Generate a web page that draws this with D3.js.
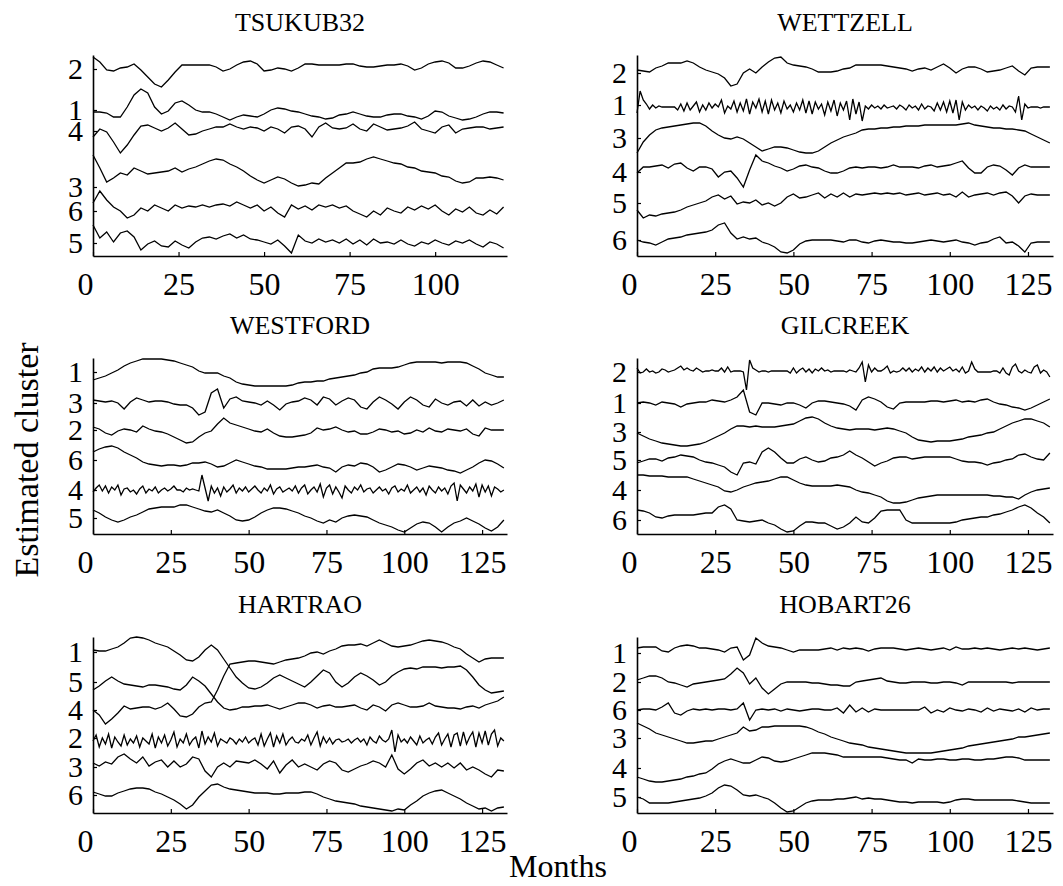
<!DOCTYPE html>
<html>
<head>
<meta charset="utf-8">
<script src="https://cdn.jsdelivr.net/npm/d3@7"></script>
<style>
  body { margin: 0; background: #fff; }
  svg text { font-family: "Liberation Serif", "Times New Roman", serif; fill: #000; }
</style>
</head>
<body>
<svg id="chart" width="1063" height="886"></svg>
<script>
// ---- Estimated cluster traces, one array per station and cluster ----
// Values are sampled every 2 months unless the series is marked with step 1.

// TSUKUB32 (months 0-120)
const tsukub32_2 = [19.9,19.4,18.6,18.5,18.8,18.9,19.2,18.6,17.9,17.2, 16.9,17.6,18.4,19.1,19.1,19.1,19.1,19.1,18.9,18.5, 18.7,19.1,19.4,19.5,19.2,18.5,18.6,18.8,18.7,18.5, 18.8,19.2,19.2,19.1,19.1,19.1,19.1,19.2,19.2,19.0, 18.9,18.9,19.0,19.1,19.1,19.2,19.0,18.6,18.8,19.2, 19.4,19.5,19.3,18.8,18.8,19.0,19.3,19.5,19.4,19.1, 18.8];
const tsukub32_1 = [14.4,14.4,14.3,13.9,13.9,14.9,16.1,16.7,16.3,14.9, 14.2,14.5,15.3,15.5,15.1,14.6,14.4,14.4,14.2,13.9, 13.6,13.9,14.1,14.0,13.9,14.2,14.6,14.8,14.7,14.5, 14.4,14.2,14.0,13.9,13.7,13.8,14.1,14.2,14.4,14.2, 14.0,13.9,13.9,14.1,14.2,14.2,14.0,13.9,13.7,14.0, 14.5,14.4,14.0,13.8,13.6,13.7,13.9,14.2,14.4,14.4, 14.3];
const tsukub32_4 = [11.9,12.7,12.4,11.4,10.3,11.1,12.1,13.0,13.1,12.8, 12.5,12.8,13.3,12.7,12.1,12.2,12.5,12.7,12.9,12.9, 13.2,12.9,12.7,12.9,12.8,12.5,12.9,12.7,12.3,12.9, 13.0,12.7,11.9,12.9,13.3,12.8,12.7,12.8,13.2,12.7, 12.5,13.2,12.9,12.6,12.7,12.8,13.0,13.4,12.7,12.5, 12.3,12.9,13.1,12.3,12.7,12.8,12.9,12.9,12.7,12.8, 12.9];
const tsukub32_3 = [10.1,8.8,7.4,7.8,8.3,8.1,8.8,8.5,8.2,8.3, 8.4,8.5,8.8,8.4,8.7,8.9,9.2,9.5,9.7,9.6, 9.2,8.9,8.5,8.0,7.6,7.3,7.6,7.9,7.7,7.3, 7.0,7.1,7.3,7.2,7.8,8.3,8.8,9.3,9.3,9.4, 9.7,9.9,9.7,9.5,9.3,9.2,8.9,8.8,8.5,8.4, 8.3,8.0,7.9,7.5,7.3,7.4,7.8,7.8,7.9,7.8, 7.6];
const tsukub32_6 = [5.3,6.5,5.6,4.9,4.5,3.8,4.1,4.8,4.5,5.1, 4.8,4.5,5.1,4.8,5.0,4.9,5.1,4.9,5.1,5.2, 5.0,5.4,5.1,4.8,5.1,4.5,4.9,4.3,3.9,5.1, 4.7,5.0,4.6,5.1,4.9,5.1,4.8,5.0,4.5,4.2, 3.9,4.5,4.1,4.8,4.5,4.3,4.9,4.6,5.0,4.7, 5.1,4.5,4.1,4.7,4.4,4.9,4.3,4.1,4.6,4.2, 4.9];
const tsukub32_5 = [3.1,1.8,2.4,1.4,2.3,2.5,1.9,0.6,1.2,1.5, 1.0,0.9,1.5,1.1,0.8,1.4,1.8,1.9,1.7,2.0, 2.2,1.8,2.1,1.7,1.6,1.4,1.2,1.6,1.0,0.3, 2.1,1.5,1.3,1.7,1.4,1.6,1.3,1.7,1.2,1.6, 1.1,1.7,1.3,1.4,1.2,1.6,1.2,1.0,1.4,1.2, 1.6,1.3,1.1,1.5,1.3,1.6,1.2,0.9,1.4,1.2, 0.8];

// WETTZELL (months 0-132)
const wettzell_2 = [18.6,18.5,18.4,18.8,19.0,19.3,19.3,19.3,19.5,19.3, 18.9,18.6,18.4,18.2,17.8,17.0,17.2,18.3,18.7,18.3, 18.9,19.4,19.8,19.9,19.3,19.1,19.0,18.9,18.7,18.4, 18.4,18.4,18.5,18.7,18.8,19.1,19.1,19.1,19.1,19.1, 19.0,18.9,18.8,18.7,18.5,18.7,18.8,18.6,18.9,19.2, 18.8,18.3,18.7,18.9,18.9,18.7,18.4,18.5,18.6,18.8, 19.0,18.5,18.1,18.8,18.9,18.9,18.9];
const wettzell_1 = [14.3,16.5,15.6,15.2,14.7,15.1,14.8,15.0,14.9,14.9, 14.9,14.9,14.9,14.6,15.2,14.5,15.3,14.6,15.0,15.4, 14.4,15.1,14.6,15.3,14.8,15.2,14.9,15.6,14.3,15.0, 14.7,15.5,14.4,15.3,14.5,15.7,14.2,15.4,14.8,15.7, 14.4,15.5,14.2,15.6,14.6,15.3,14.3,15.5,14.7,15.1, 14.4,15.3,14.6,15.6,14.3,15.5,14.2,15.4,14.7,15.2, 14.1,15.4,14.5,15.6,14.0,15.3,14.6,15.5,13.6,15.7, 14.2,15.4,13.5,15.0,14.7,15.1,14.8,15.0,14.7,15.1, 14.8,14.9,15.0,14.7,15.1,14.9,14.6,15.1,14.8,15.0, 14.6,15.2,14.7,15.0,14.9,14.5,15.3,14.6,15.4,14.4, 15.5,14.3,15.6,13.6,15.4,14.6,15.1,14.8,15.0,14.6, 15.0,14.8,14.5,15.0,14.7,14.9,14.6,15.1,14.7,15.0, 14.9,14.4,16.0,13.6,15.2,14.8,14.9,14.9,14.9,14.8, 14.9,14.9,14.9];
const wettzell_3 = [10.3,11.4,12.1,12.6,12.8,12.9,13.0,13.1,13.2,13.3, 13.3,13.0,12.5,12.1,11.8,11.7,11.9,11.7,11.3,10.9, 10.5,10.7,10.9,10.9,10.8,10.6,10.4,10.3,10.3,10.5, 10.9,11.3,11.6,11.9,12.1,12.3,12.6,12.7,12.7,12.8, 12.8,12.9,12.9,13.0,13.0,13.0,13.1,13.1,13.1,13.1, 13.1,13.1,13.2,13.3,13.1,13.0,12.9,12.8,12.8,12.7, 12.7,12.6,12.5,12.2,11.9,11.6,11.3];
const wettzell_4 = [8.3,8.9,8.9,9.0,9.1,8.8,9.2,9.3,8.8,8.5, 8.9,8.9,8.7,7.9,8.4,8.5,7.8,6.9,8.6,10.1, 9.5,9.3,9.0,8.8,8.5,8.7,9.0,9.1,8.9,8.8, 8.5,8.3,8.3,8.5,8.8,8.9,8.8,8.9,8.9,8.8, 8.9,9.1,8.9,8.9,8.9,8.8,9.0,9.1,8.9,9.0, 9.1,9.3,9.5,8.8,8.3,8.3,8.9,9.1,9.0,8.6, 8.1,8.8,9.1,8.9,8.9,8.9,8.9];
const wettzell_5 = [4.6,3.8,4.1,4.0,4.2,4.3,4.4,4.6,4.9,5.1, 5.3,5.5,5.9,6.1,5.7,6.0,5.2,5.4,5.3,5.6, 5.1,5.3,5.0,5.3,5.9,6.2,5.8,5.9,6.1,6.3, 5.8,6.2,5.9,6.3,5.9,6.2,6.1,6.2,6.3,6.2, 6.3,6.2,6.3,6.1,6.2,6.3,6.1,6.2,6.3,6.1, 6.2,5.9,6.4,5.9,6.1,6.2,6.3,6.1,6.3,6.4, 6.0,5.3,6.0,6.2,6.1,6.1,6.1];
const wettzell_6 = [1.6,1.4,1.3,1.1,1.4,1.7,1.8,1.9,2.1,2.2, 2.3,2.4,2.6,3.1,3.3,2.3,1.7,1.9,1.7,1.8, 1.4,1.2,0.9,0.4,0.3,0.6,1.2,1.5,1.6,1.6, 1.6,1.6,1.5,1.4,1.6,1.6,1.4,1.3,1.5,1.6, 1.5,1.4,1.4,1.3,1.3,1.4,1.5,1.6,1.5,1.4, 1.5,1.6,1.4,1.3,1.1,1.3,1.4,1.7,1.9,1.3, 1.4,1.0,0.4,1.3,1.4,1.4,1.4];

// WESTFORD (months 0-132)
const westford_1 = [15.4,15.6,15.8,16.1,16.4,16.8,17.1,17.3,17.5,17.5, 17.5,17.5,17.4,17.3,17.1,16.9,16.7,16.3,16.1,16.1, 16.1,15.8,15.6,15.2,15.0,14.9,14.8,14.8,14.8,14.8, 14.8,14.8,14.9,15.1,15.2,15.2,15.3,15.3,15.5,15.6, 15.7,15.8,15.9,16.1,16.2,16.5,16.6,16.6,16.6,16.7, 16.9,17.1,17.2,17.2,17.2,17.2,17.1,17.2,17.2,17.2, 17.1,16.8,16.5,16.1,15.9,15.7,15.7];
const westford_3 = [13.4,13.3,13.2,13.3,13.1,12.5,13.2,13.6,13.4,13.2, 13.3,13.3,13.2,13.0,12.9,12.9,12.6,11.9,12.2,14.1, 14.5,12.6,13.5,13.7,13.3,13.2,13.1,12.9,13.3,12.9, 12.4,13.0,13.2,13.3,13.6,13.4,12.9,13.7,13.5,12.9, 13.3,13.6,13.4,12.7,12.5,13.2,13.7,13.4,13.0,12.5, 13.2,13.7,13.4,12.9,12.7,13.5,13.1,12.9,13.2,13.3, 12.8,13.4,12.8,13.2,12.9,13.1,13.4];
const westford_2 = [10.7,10.5,10.1,9.9,10.3,10.5,10.4,10.2,10.8,10.5, 10.3,10.2,10.0,9.7,9.4,9.1,9.2,9.7,10.1,10.3, 11.0,11.6,11.1,10.9,10.7,10.5,10.3,10.2,10.5,10.1, 9.8,9.7,9.7,9.8,9.9,10.1,10.6,10.4,10.5,10.7, 10.4,10.2,10.3,10.0,10.0,10.2,10.5,10.4,10.2,10.3, 10.0,10.1,10.4,10.2,10.6,10.3,10.2,10.5,10.4,10.3, 10.5,10.0,9.8,10.6,10.4,10.4,10.4];
const westford_6 = [8.2,8.5,8.7,8.8,8.6,8.2,7.9,7.6,7.2,7.0, 6.9,6.8,6.9,6.9,6.8,6.9,7.1,7.1,7.2,7.0, 6.7,6.8,7.1,7.4,7.2,7.0,6.8,6.7,6.5,6.5, 6.5,6.5,6.6,6.7,6.7,6.8,6.9,6.7,6.6,6.2, 6.7,6.9,6.8,7.1,7.0,6.7,6.2,6.4,6.7,7.0, 6.9,6.7,6.4,6.6,6.8,6.7,6.6,6.4,6.3,6.1, 6.4,6.7,7.1,7.4,7.3,7.0,6.6];
const westford_4 = [4.2,4.6,4.9,4.3,4.8,4.1,4.7,4.4,4.9,3.9, 4.5,4.6,4.2,4.4,4.0,4.5,4.8,4.1,4.5,4.3, 4.7,4.1,4.4,4.6,4.3,4.5,4.8,4.4,4.4,4.2, 4.6,4.4,4.5,4.4,4.3,5.9,4.6,3.3,4.8,4.1, 4.6,3.8,4.7,4.2,4.5,4.9,4.1,4.6,4.3,4.7, 4.2,4.5,4.8,4.4,4.1,4.6,4.3,4.9,4.0,4.5, 4.7,4.2,4.4,4.6,4.3,4.8,4.1,4.6,4.9,4.0, 4.4,4.7,4.2,5.0,3.7,4.6,4.9,4.0,4.7,4.2, 3.6,4.8,4.4,4.1,4.7,4.4,4.9,4.2,4.5,4.6, 4.1,4.4,4.7,4.3,4.5,4.0,4.6,4.8,4.2,4.5, 4.3,4.9,4.1,4.4,4.7,4.2,4.6,3.9,4.8,4.4, 4.1,4.7,4.3,4.6,4.0,4.8,5.1,3.3,4.9,4.5, 4.1,4.7,4.3,5.0,3.7,4.9,4.2,4.8,3.8,4.7, 4.5,4.2,4.4];
const westford_5 = [2.4,2.1,1.7,1.4,1.2,1.4,1.7,1.9,2.2,2.5, 2.6,2.7,2.7,2.7,2.9,2.9,2.7,2.5,2.3,2.2, 2.4,2.1,1.8,1.4,1.3,1.4,1.7,2.1,2.4,2.6, 2.6,2.5,2.3,2.1,1.8,1.6,1.3,1.1,1.4,1.2, 1.6,1.8,1.9,1.8,1.7,1.4,1.1,0.9,0.7,0.4, 0.2,0.6,1.0,1.2,1.1,0.7,0.2,0.7,1.1,1.3, 1.6,1.3,1.0,0.6,0.3,0.7,1.4];

// GILCREEK (months 0-132)
const gilcreek_2 = [16.6,16.1,16.2,16.5,16.2,16.3,16.1,16.2,16.5,16.4, 16.2,16.3,16.4,16.6,16.8,16.4,16.6,16.4,16.3,16.6, 16.4,16.2,16.3,16.3,16.4,16.3,16.3,16.6,16.2,16.7, 16.2,16.3,16.3,16.3,16.2,14.4,17.4,16.6,16.4,16.2, 16.3,16.3,16.2,16.3,16.3,16.3,16.3,16.3,16.3,16.1, 16.6,16.1,16.4,16.6,16.2,16.5,16.1,16.5,16.3,16.6, 16.3,16.4,16.2,16.3,16.3,16.3,16.3,16.2,16.4,16.3, 16.2,16.6,17.2,15.2,16.9,16.2,16.6,16.3,16.3,16.5, 16.8,16.1,16.3,16.2,16.3,16.6,16.3,16.6,16.2,16.5, 16.3,16.7,16.2,16.6,16.3,16.7,16.2,16.6,16.3,16.5, 16.7,16.3,16.5,16.2,16.7,16.1,16.3,17.2,16.5,16.2, 16.2,16.2,16.2,16.2,16.3,16.3,16.1,16.6,16.1,15.9, 16.7,17.0,16.3,16.1,16.4,16.2,16.1,16.7,16.9,16.1, 16.4,16.2,15.7];
const gilcreek_1 = [13.1,13.2,13.1,12.9,13.2,13.1,13.0,12.7,13.0,13.1, 13.2,13.2,13.4,13.3,13.2,13.4,13.7,14.4,12.2,11.9, 13.1,13.1,13.0,12.9,13.1,13.1,12.9,12.6,13.1,13.3, 13.3,13.2,13.1,13.0,12.8,12.4,13.4,13.7,13.5,13.2, 12.7,12.5,13.1,13.2,13.2,13.2,13.2,13.3,13.3,13.2, 13.3,13.4,13.2,13.3,13.2,13.4,13.5,13.2,13.0,12.9, 12.7,12.6,12.4,12.6,12.9,13.2,13.5];
const gilcreek_3 = [10.1,9.8,9.5,9.3,9.1,9.0,8.9,8.8,8.8,8.9, 9.0,9.2,9.5,9.8,10.1,10.5,10.8,10.8,10.7,10.8, 10.7,10.7,10.7,10.8,10.9,11.0,11.3,11.6,11.7,11.5, 11.1,10.8,10.6,10.5,10.4,10.5,10.5,10.5,10.4,10.5, 10.6,10.5,10.3,10.1,9.7,9.4,9.3,9.2,9.3,9.3, 9.3,9.4,9.5,9.7,9.8,9.9,10.1,10.2,10.5,10.8, 11.1,11.3,11.5,11.5,11.3,11.1,10.7];
const gilcreek_5 = [7.1,7.3,7.5,7.5,7.3,7.6,7.7,7.9,7.8,7.7, 7.4,7.2,7.1,6.9,6.7,6.2,5.9,7.1,7.2,7.0, 8.2,8.6,8.2,7.6,7.1,7.1,7.5,7.7,7.4,7.2, 7.3,7.6,7.7,7.9,8.3,7.9,7.6,7.2,6.8,7.1, 7.3,7.6,7.7,7.7,7.5,7.6,7.7,7.7,7.7,7.7, 7.7,7.5,7.3,7.2,7.2,7.1,6.9,7.1,7.2,7.4, 7.5,7.9,8.0,7.7,7.5,7.4,8.1];
const gilcreek_4 = [5.9,5.9,5.8,5.8,5.8,5.7,5.7,5.7,5.7,5.5, 5.3,5.1,4.9,4.7,4.3,4.2,4.4,4.7,4.9,5.1, 5.2,5.3,5.5,5.7,5.7,5.4,5.1,4.9,4.8,4.8, 4.8,4.8,4.9,4.8,4.7,4.4,4.2,4.1,3.9,3.7, 3.3,3.1,3.1,3.2,3.4,3.6,3.7,3.8,3.9,3.9, 3.9,3.9,3.9,3.9,3.9,3.9,3.9,3.8,3.8,3.7, 3.7,3.5,3.9,4.2,4.4,4.5,4.6];
const gilcreek_6 = [2.4,2.3,2.1,1.7,1.6,1.8,1.9,1.9,1.9,1.9, 2.0,2.1,2.1,2.7,2.9,2.5,1.4,1.3,1.2,1.3, 1.4,1.1,0.9,0.5,0.2,0.3,0.8,1.2,1.2,1.1, 1.1,0.8,0.5,0.7,1.1,1.7,1.2,1.1,1.6,2.3, 2.4,2.4,2.4,1.4,1.1,1.1,1.1,1.1,1.1,1.1, 1.1,1.2,1.4,1.5,1.6,1.7,1.7,1.9,2.0,2.2, 2.4,2.7,2.9,2.6,2.1,1.7,1.1];

// HARTRAO (months 0-132)
const hartrao_1 = [16.3,16.2,16.2,16.4,16.6,17.0,17.5,17.6,17.5,17.3, 17.0,16.8,16.6,16.2,15.8,15.3,15.2,15.6,16.3,16.8, 16.3,15.4,14.5,13.6,13.0,12.5,12.4,12.6,13.0,13.5, 13.8,13.5,13.2,12.9,12.6,13.1,13.7,14.3,14.0,13.1, 12.6,13.0,13.6,14.0,13.7,13.3,12.8,13.1,13.7,14.1, 14.4,14.5,14.4,14.6,14.6,14.6,14.5,14.6,14.6,14.7, 14.3,13.6,12.8,12.3,12.0,12.1,12.2];
const hartrao_5 = [12.3,12.7,13.2,13.6,13.2,12.9,12.8,12.7,12.6,12.8, 12.8,12.7,12.6,12.4,12.3,12.8,13.6,13.2,12.7,11.9, 11.1,10.5,10.3,10.4,10.6,10.6,10.7,10.7,10.8,10.6, 10.4,10.6,10.8,11.0,11.0,10.8,10.5,10.7,10.8,10.6, 10.6,10.7,10.8,10.5,10.3,10.8,10.6,10.2,10.8,11.0, 10.8,10.6,10.6,10.7,11.0,10.7,10.6,10.5,10.5,10.4, 10.6,10.7,10.5,10.8,11.0,11.2,11.6];
const hartrao_4 = [10.3,9.8,8.9,9.4,10.0,10.7,10.4,10.5,10.6,10.6, 10.4,10.6,11.0,10.4,9.7,9.6,9.9,10.6,11.0,11.1, 12.3,13.7,14.9,15.0,15.1,15.2,15.2,15.1,15.0,14.9, 15.1,15.3,15.4,15.5,15.7,16.0,16.1,15.9,16.2,16.4, 16.7,16.8,16.8,16.9,16.7,17.0,17.3,17.0,16.7,16.6, 16.7,16.8,17.0,17.2,17.3,17.2,17.1,16.9,16.6,16.4, 15.9,15.5,15.1,15.4,15.5,15.5,15.5];
const hartrao_2 = [7.2,7.8,6.6,7.5,6.9,7.9,6.5,7.6,7.1,6.7, 7.8,6.8,7.4,7.0,7.7,6.6,7.5,7.2,6.9,7.9, 6.5,7.6,7.0,7.8,6.7,7.3,8.1,6.6,7.4,7.0, 7.9,6.8,7.3,7.6,6.5,8.2,6.9,7.6,7.1,8.0, 6.7,7.4,7.2,7.0,7.5,7.3,6.9,7.4,7.1,7.6, 7.0,7.3,7.5,6.8,7.9,6.7,7.4,8.0,6.6,7.7, 7.0,7.9,6.8,7.3,7.6,7.1,7.0,7.4,7.2,7.8, 6.8,7.5,8.1,6.7,7.6,7.0,7.5,6.9,7.3,7.4, 7.1,7.2,7.4,7.0,7.3,7.5,7.1,7.4,6.8,7.6, 7.2,7.0,7.7,7.3,7.1,7.4,8.3,6.1,7.8,7.1, 7.4,7.0,7.6,7.2,6.8,7.7,7.0,7.3,7.5,6.9, 7.6,8.0,6.8,7.4,7.9,6.6,7.8,8.0,6.7,8.1, 6.9,7.6,8.1,6.6,8.0,7.0,8.2,6.8,7.9,8.3, 6.7,7.5,7.2];
const hartrao_3 = [5.0,4.7,5.1,4.9,5.6,5.9,5.4,5.0,5.6,4.7, 5.1,5.3,4.6,5.2,4.6,4.9,5.6,5.4,4.2,3.6, 4.6,5.0,4.6,5.2,5.1,5.0,5.3,4.9,4.4,5.2, 4.0,4.8,5.3,4.6,4.9,4.6,4.3,4.9,5.2,5.0, 4.3,4.1,4.4,4.7,4.9,5.2,5.0,4.6,5.8,4.4, 3.9,4.4,5.0,5.3,4.7,5.0,4.6,5.0,4.5,5.0, 4.3,4.6,4.3,3.9,3.6,4.3,4.2];
const hartrao_6 = [2.1,1.9,1.7,1.7,2.0,2.2,2.4,2.5,2.5,2.4, 2.1,1.9,1.6,1.3,0.9,0.4,0.8,1.6,2.2,2.8, 2.9,2.6,2.4,2.3,2.2,2.1,2.0,2.0,2.0,1.9, 1.9,2.0,2.0,2.0,2.1,2.1,1.9,1.6,1.4,1.2, 1.1,1.0,0.9,0.7,0.6,0.5,0.4,0.3,0.2,0.4, 0.3,0.8,1.2,1.7,2.0,2.2,2.3,2.0,1.7,1.4, 1.0,0.7,0.4,0.5,0.2,0.5,0.6];

// HOBART26 (months 0-132)
const hobart26_1 = [16.5,16.6,16.6,16.6,16.2,16.1,16.5,16.7,16.8,16.7, 16.5,16.5,16.4,16.3,16.1,16.5,16.6,15.3,15.8,17.5, 17.0,16.7,16.6,16.5,16.3,16.1,16.3,16.3,16.3,16.3, 16.4,16.5,16.3,16.5,16.4,16.5,16.4,16.2,16.4,16.5, 16.5,16.5,16.4,16.3,16.4,16.5,16.4,16.3,16.4,16.5, 16.3,16.6,16.4,16.4,16.5,16.4,16.5,16.4,16.3,16.4, 16.5,16.4,16.5,16.4,16.3,16.4,16.5];
const hobart26_2 = [13.3,13.5,13.7,13.7,13.5,13.1,13.0,12.8,12.6,12.9, 13.0,13.1,13.2,13.3,13.4,13.9,14.5,14.0,12.9,13.5, 12.5,11.9,12.4,12.9,13.1,13.1,13.1,13.1,13.0,13.0, 12.9,12.8,12.8,12.7,12.7,13.1,13.2,13.3,13.4,13.5, 13.2,13.1,13.0,13.0,13.1,13.1,13.1,13.0,13.0,13.1, 13.1,13.0,12.8,13.1,13.1,13.1,13.1,13.1,13.1,13.1, 13.0,13.1,13.1,13.1,13.1,13.1,13.1];
const hobart26_6 = [10.3,10.4,10.4,10.3,10.6,11.0,10.0,9.8,10.2,10.4, 10.3,10.4,10.3,10.4,10.4,10.3,10.4,11.0,9.3,10.3, 10.4,10.3,10.4,10.2,10.4,10.3,10.2,10.3,10.4,10.4, 10.3,10.3,10.5,10.0,10.8,10.1,10.5,10.1,10.4,10.3, 10.3,10.3,10.3,10.3,10.3,10.3,10.6,10.0,10.3,10.1, 10.5,10.3,10.2,10.4,10.3,10.1,10.5,10.2,10.4,10.3, 10.2,10.4,10.1,10.5,10.3,10.4,10.4];
const hobart26_3 = [9.0,8.7,8.4,8.0,7.8,7.6,7.4,7.2,7.0,7.0, 7.1,7.2,7.2,7.4,7.6,7.8,8.0,8.6,8.2,8.3, 8.6,8.6,8.7,8.7,8.7,8.7,8.7,8.6,8.4,8.1, 7.9,7.6,7.4,7.2,7.0,6.9,6.8,6.6,6.5,6.4, 6.3,6.2,6.1,6.0,6.0,6.0,6.0,6.0,6.1,6.2, 6.3,6.4,6.5,6.7,6.8,6.9,7.0,7.1,7.2,7.3, 7.4,7.6,7.6,7.7,7.8,7.9,8.0];
const hobart26_4 = [3.6,3.4,3.2,3.1,3.1,3.2,3.3,3.4,3.6,3.7, 3.9,4.0,4.4,4.9,5.2,5.4,5.2,5.0,5.0,5.3, 5.6,5.5,5.2,5.1,5.2,5.4,5.6,5.8,6.0,6.0, 6.0,5.9,5.8,5.6,5.6,5.6,5.6,5.6,5.6,5.6, 5.5,5.4,5.3,5.3,5.0,5.4,5.3,5.3,5.4,5.4, 5.3,5.3,5.4,5.4,5.3,5.3,5.4,5.4,5.5,5.6, 5.6,5.5,5.3,5.3,5.3,5.3,5.3];
const hobart26_5 = [1.6,1.4,1.0,1.0,1.0,1.0,1.1,1.2,1.3,1.4, 1.5,1.7,2.0,2.5,2.8,2.7,2.3,1.8,1.7,1.8, 1.6,1.4,1.0,0.5,0.1,0.2,0.6,1.0,1.2,1.3, 1.3,1.3,1.4,1.4,1.5,1.6,1.4,1.5,1.4,1.4, 1.3,1.2,1.1,1.1,1.0,1.1,1.1,1.1,1.1,1.0, 1.1,1.3,1.4,1.4,1.3,1.3,1.3,1.3,1.3,1.3, 1.3,1.2,1.1,1.0,1.0,1.0,1.0];

// Axis ticks
const monthTicks = [0, 25, 50, 75, 100, 125];
const tsukub32Ticks = [18.7, 14.6, 12.5, 6.9, 4.5, 1.3];
const wettzellTicks = [18.3, 15.1, 11.8, 8.4, 5.3, 1.6];
const westfordTicks = [16.2, 13.1, 10.4, 7.4, 4.4, 1.6];
const gilcreekTicks = [16.2, 13.1, 10.2, 7.4, 4.4, 1.4];
const hartraoTicks = [16.1, 13.1, 10.3, 7.5, 4.6, 1.8];
const hobart26Ticks = [16.0, 13.1, 10.3, 7.5, 4.5, 1.6];

const tsukub32Labels = ["2", "1", "4", "3", "6", "5"];
const wettzellLabels = ["2", "1", "3", "4", "5", "6"];
const westfordLabels = ["1", "3", "2", "6", "4", "5"];
const gilcreekLabels = ["2", "1", "3", "5", "4", "6"];
const hartraoLabels = ["1", "5", "4", "2", "3", "6"];
const hobart26Labels = ["1", "2", "6", "3", "4", "5"];

// ---- Panel layout ----
const COLS = [{ left: 93, right: 507 }, { left: 637, right: 1053 }];
const ROWS = [{ top: 55, bottom: 256, yMax: 20.1 }, { top: 358, bottom: 534, yMax: 17.6 }, { top: 637, bottom: 813, yMax: 17.6 }];

const panels = [
  { title: "TSUKUB32", col: 0, row: 0, xMax: 121, ticks: tsukub32Ticks, labels: tsukub32Labels,
    series: [[tsukub32_2, 2], [tsukub32_1, 2], [tsukub32_4, 2], [tsukub32_3, 2], [tsukub32_6, 2], [tsukub32_5, 2]] },
  { title: "WETTZELL", col: 1, row: 0, xMax: 133, ticks: wettzellTicks, labels: wettzellLabels,
    series: [[wettzell_2, 2], [wettzell_1, 1], [wettzell_3, 2], [wettzell_4, 2], [wettzell_5, 2], [wettzell_6, 2]] },
  { title: "WESTFORD", col: 0, row: 1, xMax: 133, ticks: westfordTicks, labels: westfordLabels,
    series: [[westford_1, 2], [westford_3, 2], [westford_2, 2], [westford_6, 2], [westford_4, 1], [westford_5, 2]] },
  { title: "GILCREEK", col: 1, row: 1, xMax: 133, ticks: gilcreekTicks, labels: gilcreekLabels,
    series: [[gilcreek_2, 1], [gilcreek_1, 2], [gilcreek_3, 2], [gilcreek_5, 2], [gilcreek_4, 2], [gilcreek_6, 2]] },
  { title: "HARTRAO", col: 0, row: 2, xMax: 133, ticks: hartraoTicks, labels: hartraoLabels,
    series: [[hartrao_1, 2], [hartrao_5, 2], [hartrao_4, 2], [hartrao_2, 1], [hartrao_3, 2], [hartrao_6, 2]] },
  { title: "HOBART26", col: 1, row: 2, xMax: 133, ticks: hobart26Ticks, labels: hobart26Labels,
    series: [[hobart26_1, 2], [hobart26_2, 2], [hobart26_6, 2], [hobart26_3, 2], [hobart26_4, 2], [hobart26_5, 2]] }
];

const svg = d3.select("#chart");
const FONT = '"Liberation Serif", "Times New Roman", serif';

panels.forEach(p => {
  const c = COLS[p.col], r = ROWS[p.row];
  const x = d3.scaleLinear().domain([0, p.xMax]).range([c.left, c.right]);
  const y = d3.scaleLinear().domain([0, r.yMax]).range([r.bottom, r.top]);
  const g = svg.append("g");

  // traces
  const line = d3.line().x(d => x(d[0])).y(d => y(d[1]));
  p.series.forEach(([values, step]) => {
    g.append("path")
      .datum(values.map((v, i) => [i * step, v]))
      .attr("d", line)
      .attr("fill", "none")
      .attr("stroke", "#000")
      .attr("stroke-width", 1.3)
      .attr("stroke-linejoin", "miter");
  });

  // bottom axis, ticks pointing inward
  const xAxis = d3.axisBottom(x)
    .tickValues(monthTicks.filter(t => t <= p.xMax))
    .tickSizeInner(-4).tickSizeOuter(0).tickPadding(16)
    .tickFormat(d3.format("d"));
  const gx = g.append("g").attr("transform", `translate(0,${r.bottom})`).call(xAxis);
  gx.attr("font-family", FONT).attr("font-size", 32);
  gx.select(".domain").attr("stroke-width", 1.6);
  gx.selectAll(".tick line").attr("stroke-width", 1.2);
  gx.selectAll(".tick text").attr("dx", d => d === 0 ? -8 : 0);

  // left axis with cluster numbers
  const yAxis = d3.axisLeft(y)
    .tickValues(p.ticks)
    .tickSizeInner(-4).tickSizeOuter(0).tickPadding(10)
    .tickFormat((d, i) => p.labels[i]);
  const gy = g.append("g").attr("transform", `translate(${c.left},0)`).call(yAxis);
  gy.attr("font-family", FONT).attr("font-size", 30);
  gy.select(".domain").attr("stroke-width", 1.6);
  gy.selectAll(".tick line").attr("stroke-width", 1.2);

  // station name
  svg.append("text")
    .attr("x", (c.left + c.right) / 2)
    .attr("y", r.top - 24)
    .attr("text-anchor", "middle")
    .attr("font-size", 26)
    .text(p.title);
});

svg.append("text")
  .attr("transform", "translate(26,460) rotate(-90)")
  .attr("text-anchor", "middle")
  .attr("dominant-baseline", "central")
  .attr("font-size", 34)
  .text("Estimated cluster");

svg.append("text")
  .attr("x", 558)
  .attr("y", 877)
  .attr("text-anchor", "middle")
  .attr("font-size", 32)
  .text("Months");
</script>
</body>
</html>
